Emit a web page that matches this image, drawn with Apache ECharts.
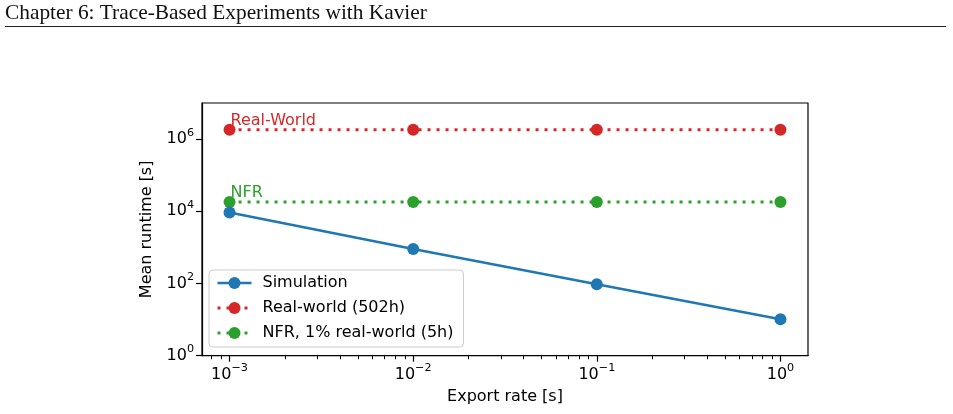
<!DOCTYPE html>
<html>
<head>
<meta charset="utf-8">
<script src="https://cdn.jsdelivr.net/npm/echarts@6/dist/echarts.min.js"></script>
<style>
html,body{margin:0;padding:0;background:#fff;}
#chart{width:953px;height:414px;}
</style>
</head>
<body>
<div id="chart"></div>
<script>
// ---- data ----
const exportRates = [0.001, 0.01, 0.1, 1];
const simulation = [9300, 900, 95, 10.2];
const realWorld = [1807200, 1807200, 1807200, 1807200];
const nfr = [18072, 18072, 18072, 18072];
const seriesNames = ['Simulation', 'Real-world (502h)', 'NFR, 1% real-world (5h)'];
const xMajorExp = [-3, -2, -1, 0];
const yMajorExp = [0, 2, 4, 6];
const xMinorTicks = [0.0008, 0.0009, 0.002, 0.003, 0.004, 0.005, 0.006, 0.007, 0.008, 0.009,
  0.02, 0.03, 0.04, 0.05, 0.06, 0.07, 0.08, 0.09, 0.2, 0.3, 0.4, 0.5, 0.6, 0.7, 0.8, 0.9];
const headerText = 'Chapter 6: Trace-Based Experiments with Kavier';
const annotations = ['Real-World', 'NFR'];

const BLUE = '#1f77b4', RED = '#d62728', GREEN = '#2ca02c';
const FONT = 'DejaVu Sans';

function toPts(xs, ys) { return xs.map((x, i) => [Math.log10(x), Math.log10(ys[i])]); }
function supLabel(v) {
  const e = Math.round(v);
  const s = e < 0 ? '\u2212' + (-e) : String(e);
  return '{b|10}{s|' + s + '}';
}
const rich = {
  b: { fontFamily: FONT, fontSize: 16, color: '#000', lineHeight: 24 },
  s: { fontFamily: FONT, fontSize: 11.2, color: '#000', lineHeight: 12.5, verticalAlign: 'top' }
};

// header font size fit to measured width
const cv = document.createElement('canvas').getContext('2d');
cv.font = '20px "Liberation Serif"';
const hw = cv.measureText(headerText).width;
const headerSize = 20 * 422 / hw;

const chart = echarts.init(document.getElementById('chart'), null, { renderer: 'canvas' });

function annotatedData(xs, ys, text, color) {
  return toPts(xs, ys).map((p, i) => i === 0 ? {
    value: p,
    label: { show: true, formatter: text, position: [7, -3], align: 'left', verticalAlign: 'middle',
      color: color, fontFamily: FONT, fontSize: 16 }
  } : { value: p });
}

const option = {
  animation: false,
  backgroundColor: '#fff',
  textStyle: { fontFamily: FONT },
  graphic: [
    { type: 'text', left: 5, top: 3, style: { text: headerText, font: headerSize.toFixed(2) + 'px "Liberation Serif"', fill: '#111' } },
    { type: 'line', shape: { x1: 5, y1: 26.5, x2: 946, y2: 26.5 }, style: { stroke: '#222', lineWidth: 1.2 } }
  ],
  grid: { left: 202, top: 103, width: 606, height: 252.7, show: true, borderColor: '#000', borderWidth: 1.2, backgroundColor: 'transparent' },
  legend: {
    orient: 'vertical', left: 209, top: 270,
    data: seriesNames,
    itemWidth: 34, itemHeight: 15, itemGap: 9,
    padding: [5, 10, 6, 7],
    backgroundColor: 'rgba(255,255,255,0.8)',
    borderColor: '#cccccc', borderWidth: 1, borderRadius: 4,
    textStyle: { fontFamily: FONT, fontSize: 16, color: '#000', padding: [0, 0, 0, 6] },
    lineStyle: { width: 'inherit', type: 'inherit' }
  },
  xAxis: [
    {
      type: 'value', min: -3.15, max: 0.15,
      name: 'Export rate [s]', nameLocation: 'middle', nameGap: 33,
      nameTextStyle: { fontFamily: FONT, fontSize: 16, color: '#000' },
      axisLine: { show: true, onZero: false, lineStyle: { color: '#000', width: 1.2 } },
      axisTick: { show: true, customValues: xMajorExp, length: 6, lineStyle: { color: '#000', width: 1.2 } },
      axisLabel: { show: true, customValues: xMajorExp, margin: 7, formatter: supLabel, rich: rich },
      splitLine: { show: false }
    },
    {
      type: 'value', min: -3.15, max: 0.15, position: 'bottom',
      axisLine: { show: false, onZero: false },
      axisTick: { show: true, customValues: xMinorTicks.map(Math.log10), length: 3.5, lineStyle: { color: '#000', width: 1 } },
      axisLabel: { show: false },
      splitLine: { show: false }
    }
  ],
  yAxis: {
    type: 'value', min: 0, max: 7,
    name: 'Mean runtime [s]', nameLocation: 'middle', nameGap: 47,
    nameTextStyle: { fontFamily: FONT, fontSize: 16, color: '#000' },
    axisLine: { show: true, onZero: false, lineStyle: { color: '#000', width: 1.2 } },
    axisTick: { show: true, customValues: yMajorExp, length: 6, lineStyle: { color: '#000', width: 1.2 } },
    axisLabel: { show: true, customValues: yMajorExp, margin: 8, formatter: supLabel, rich: rich },
    splitLine: { show: false }
  },
  series: [
    {
      name: seriesNames[0], type: 'line', z: 5,
      data: toPts(exportRates, simulation),
      symbol: 'circle', symbolSize: 12, showAllSymbol: true,
      lineStyle: { color: BLUE, width: 2.5 }, itemStyle: { color: BLUE }
    },
    {
      name: seriesNames[1], type: 'line', z: 3,
      data: annotatedData(exportRates, realWorld, annotations[0], RED),
      symbol: 'circle', symbolSize: 12, showAllSymbol: true,
      lineStyle: { color: RED, width: 3, type: [3, 6], cap: 'butt' }, itemStyle: { color: RED }
    },
    {
      name: seriesNames[2], type: 'line', z: 4,
      data: annotatedData(exportRates, nfr, annotations[1], GREEN),
      symbol: 'circle', symbolSize: 12, showAllSymbol: true,
      lineStyle: { color: GREEN, width: 3, type: [3, 6], cap: 'butt' }, itemStyle: { color: GREEN }
    }
  ]
};
chart.setOption(option);
</script>
</body>
</html>
